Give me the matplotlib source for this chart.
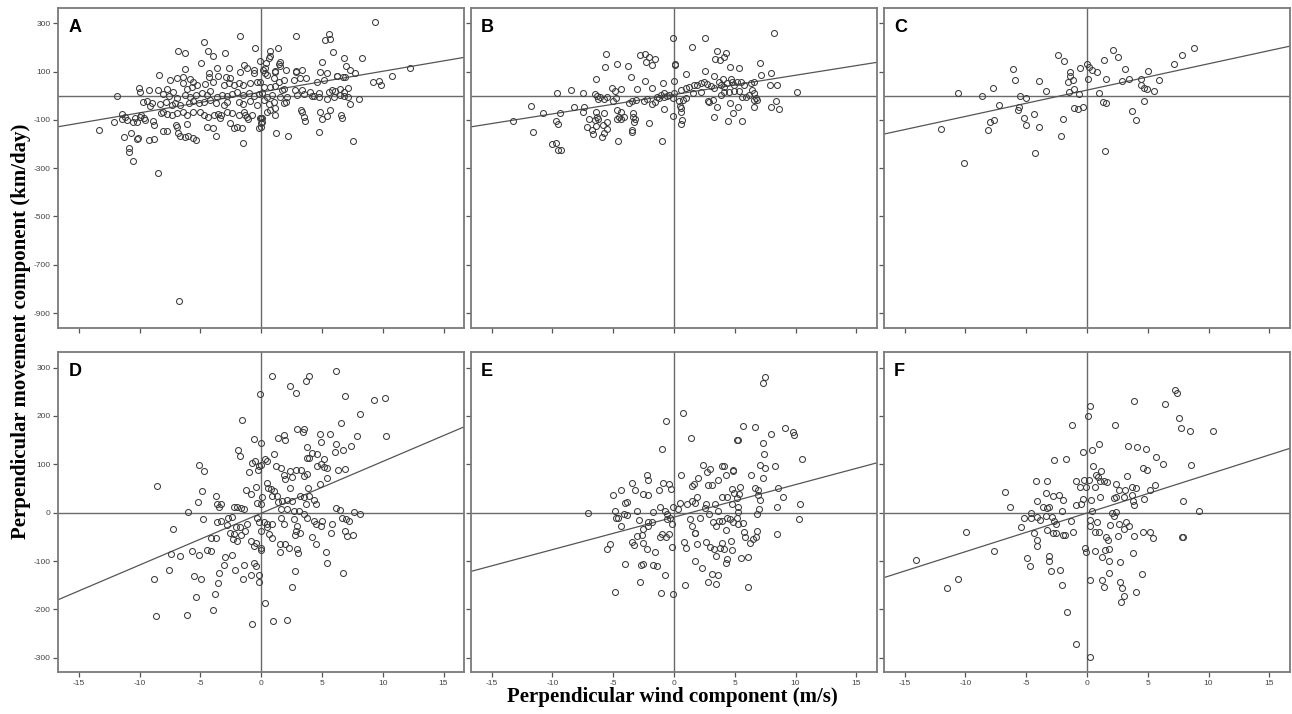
import matplotlib
matplotlib.use('Agg')
import matplotlib.pyplot as plt
import numpy as np

# panel A: perpendicular wind (m/s) vs perpendicular movement (km/day)
a_pts = [
    (9.4, 304), (-1.76, 249), (2.83, 249), (5.55, 254), (5.63, 234), (5.27, 231), (-4.7, 223), (-6.87, 187),
    (-6.26, 176), (-4.34, 187), (-3.98, 165), (-2.97, 178), (-0.49, 198), (0.74, 183), (0.69, 165), (1.35, 198),
    (5.88, 181), (8.3, 158), (6.81, 155), (-4.95, 134), (-0.08, 144), (0.41, 134), (1.51, 141), (1.51, 123),
    (2.06, 106), (-1.43, 127), (-1.18, 113), (5.0, 140), (6.95, 123), (7.34, 106), (7.75, 95), (-6.26, 111),
    (-8.38, 86), (-4.29, 95), (-3.6, 113), (-2.69, 113), (-1.73, 100), (-0.63, 93), (0.11, 106), (1.1, 102),
    (2.88, 102), (3.35, 106), (3.65, 75), (4.59, 58), (5.14, 65), (5.41, 95), (6.24, 82), (6.87, 76),
    (9.18, 58), (9.67, 62), (9.89, 44), (10.77, 82), (12.25, 113), (6.1, 21), (6.51, 26), (7.12, 33),
    (6.79, -3), (5.96, -7), (5.41, -15), (7.34, -35), (8.05, -14), (4.31, -1), (3.3, -59), (3.54, -87),
    (3.57, -104), (4.81, -66), (5.0, -95), (5.41, -84), (5.69, -59), (6.59, -80), (6.62, -94), (7.58, -187),
    (4.78, -149), (1.21, -153), (2.17, -169), (0.0, -129), (0.0, -91), (-1.51, -195), (-2.28, -135), (-2.0, -129),
    (-1.13, -97), (-1.32, -80), (-3.43, -91), (-3.32, -80), (-3.71, -166), (-4.48, -129), (-3.93, -133), (-5.36, -184),
    (-5.58, -174), (-6.26, -170), (-6.68, -167), (-6.95, -129), (-6.81, -156), (-8.05, -145), (-7.77, -145), (-8.82, -122),
    (-9.2, -184), (-8.79, -181), (-10.11, -177), (-10.52, -271), (-10.85, -218), (-10.85, -232), (-10.71, -153), (-11.26, -170),
    (-13.35, -141), (-12.09, -111), (-11.48, -77), (-11.43, -98), (-11.04, -101), (-10.58, -108), (-10.25, -108), (-9.89, -80),
    (-9.64, -94), (-11.9, -1), (-8.49, -321), (-6.76, -852),
    (-0.63, 106), (-4.26, 79), (-3.52, 82), (-2.88, 76), (-2.55, 72), (0.33, 93), (-7.5, 65), (-6.9, 72),
    (-6.46, 79), (-5.85, 69), (-5.58, 58), (-10.03, 33), (-9.97, 14), (-9.26, 22), (-8.46, 24), (-7.72, 28),
    (-7.23, 14), (-6.4, 51), (-6.13, 28), (-5.71, 37), (-5.3, 44), (-4.62, 47), (-3.93, 58), (-3.1, 44),
    (-2.69, 51), (-2.28, 44), (-1.87, 51), (-1.46, 44), (-0.91, 51), (-0.36, 58),
    (-8.1, 6), (-7.55, 0), (-6.9, -8), (-6.26, 3), (-5.85, -4), (-5.36, 3), (-4.89, 12), (-4.48, 3),
    (-4.2, 19), (-3.65, -4), (-3.24, 3), (-2.83, -1), (-2.42, 6), (-2.0, 14), (-1.51, 3), (-1.04, 10),
    (-0.63, 0), (-0.22, 6),
    (-9.7, -25), (-9.42, -22), (-9.15, -41), (-9.01, -32), (-8.32, -36), (-7.83, -28), (-7.36, -39), (-7.09, -32),
    (-6.68, -39), (-5.91, -29), (-5.58, -22), (-5.16, -32), (-4.75, -25), (-4.2, -18), (-3.71, -32), (-3.05, -39),
    (-2.83, -28), (-1.87, -28), (-1.46, -36), (-0.91, -22), (-0.36, -39),
    (-11.21, -87), (-10.38, -94), (-9.97, -87), (-9.56, -101), (-8.87, -105), (-8.27, -73), (-8.05, -66), (-7.72, -77),
    (-7.36, -80), (-6.95, -73), (-6.4, -66), (-6.13, -80), (-5.58, -66), (-5.03, -66), (-4.75, -80), (-4.34, -87),
    (-3.87, -80), (-3.52, -77), (-2.83, -66), (-2.42, -73), (-1.87, -80), (-1.4, -66), (-1.18, -87), (-0.77, -80),
    (-0.08, -94), (-10.25, -180), (-7.0, -122), (-5.99, -166), (-6.07, -119), (-2.55, -115), (-1.59, -135), (-0.22, -133),
    (-0.03, -115),
    (0.6, 158), (1.48, 130), (0.33, 113), (2.88, 97), (4.81, 97), (6.24, 83), (6.73, 79), (1.15, 100),
    (0.47, 86), (1.02, 72), (1.43, 58), (1.84, 65), (2.66, 65), (3.16, 72), (-0.08, 58), (0.19, 37),
    (0.74, 37), (1.15, 41), (1.7, 24), (1.9, 28), (2.8, 24), (3.35, 24), (4.04, 17), (4.73, 10),
    (5.82, 24), (6.79, 17), (0.05, 10), (0.47, -4), (0.88, 3), (1.57, -4), (2.12, -4), (2.94, 3),
    (3.49, 6), (4.18, -1), (4.73, -4), (5.55, 14), (6.51, 3), (7.12, -4), (0.19, -18), (0.6, -36),
    (1.02, -25), (1.15, -53), (1.84, -32), (2.06, -25), (0.47, -66), (1.15, -80), (0.74, -59), (3.35, -66),
    (0.05, -94), (0.05, -108),
]

b_pts = [
    (8.22, 259), (-0.11, 238), (2.55, 238), (1.45, 201), (-5.59, 173), (-2.79, 170), (-2.38, 174), (-2.03, 162),
    (-1.59, 151), (-2.33, 140), (-1.8, 127), (3.56, 187), (4.25, 178), (4.11, 159), (3.78, 148), (3.34, 152),
    (-5.64, 120), (-4.66, 130), (-3.75, 123), (0.05, 133), (0.08, 127), (7.07, 134), (4.6, 118), (5.34, 113),
    (2.52, 104), (-3.53, 79), (0.96, 89), (-6.44, 68), (-2.38, 62), (-0.9, 54), (0.0, 61), (3.29, 82),
    (4.05, 68), (4.66, 68), (5.21, 58), (7.12, 86), (7.95, 95), (-9.59, 10), (-8.49, 24), (-7.45, 12),
    (-6.49, 7), (-6.3, -1), (-6.08, -4), (-6.25, -14), (-5.12, 30), (-4.85, 19), (-4.33, 26), (-3.07, 28),
    (-1.78, 30), (-1.37, -4), (-1.1, 3), (-0.82, 10), (-0.41, 3), (0.0, 10), (0.55, 24), (0.96, 30),
    (1.23, 37), (1.64, 44), (1.92, 44), (2.19, 51), (2.47, 58), (2.74, 48), (3.01, 40), (3.29, 30),
    (3.7, 58), (3.84, 44), (4.11, 37), (4.38, 51), (4.79, 58), (4.93, 44), (5.48, 58), (5.75, 44),
    (6.3, 51), (6.58, 58), (6.44, 24), (6.58, 10), (6.71, -11), (6.85, -18), (7.89, 44), (8.44, 44),
    (10.08, 17), (-11.78, -41), (-10.82, -73), (-9.37, -73), (-13.21, -104), (-11.59, -152), (-9.73, -105), (-9.53, -119),
    (-10.08, -200), (-9.75, -195), (-9.53, -225), (-9.26, -225), (-8.22, -46), (-7.53, -66), (-7.4, -48), (-6.44, -66),
    (-6.3, -87), (-6.49, -101), (-6.99, -97), (-6.25, -95), (-7.12, -131), (-6.71, -142), (-6.66, -159), (-6.44, -126),
    (-5.84, -122), (-5.75, -156), (-5.89, -173), (-5.48, -108), (-5.48, -136), (-5.75, -73), (-4.66, -59), (-4.52, -87),
    (-4.66, -97), (-4.38, -95), (-4.11, -87), (-4.38, -66), (-3.48, -142), (-3.42, -149), (-3.29, -108), (-3.37, -87),
    (-3.23, -95), (-3.34, -73), (-4.63, -187), (-2.05, -115), (-5.75, -14), (-5.48, -7), (-4.99, -21), (-4.79, -11),
    (-3.7, -32), (-3.42, -22), (-3.15, -18), (-2.47, -21), (-2.19, -15), (-1.78, -35), (-1.59, -25), (-1.23, -11),
    (-0.82, -4), (-0.55, -1), (-0.05, -8), (-0.82, -57), (-0.05, -84), (0.55, -53), (0.6, -66), (0.68, -101),
    (0.55, -118), (0.47, -43), (0.96, -11), (0.77, -18), (0.41, -21), (-1.01, -187), (1.59, 12), (2.19, 17),
    (2.79, -22), (3.23, -18), (3.51, -48), (3.29, -90), (2.88, -25), (3.84, 3), (4.11, 17), (4.52, 17),
    (4.93, 21), (5.34, 21), (5.62, -7), (5.89, -4), (6.16, 3), (6.58, -18), (4.41, -104), (4.82, -71),
    (5.23, -48), (5.62, -104), (6.58, -48), (4.6, -32), (7.95, -46), (8.36, -21), (8.63, -57),
]

c_pts = [
    (8.79, 199), (7.81, 169), (7.15, 131), (2.11, 189), (2.55, 159), (1.42, 147), (-2.41, 169), (-1.89, 145),
    (-6.08, 109), (-5.89, 65), (-3.97, 62), (-7.7, 33), (-10.6, 10), (-8.63, 0), (-3.37, 18), (-1.42, 98),
    (-1.42, 82), (-1.53, 57), (-1.18, 65), (-1.1, 29), (-1.45, 14), (-0.68, 7), (-0.55, 116), (0.0, 131),
    (0.14, 120), (0.41, 106), (0.82, 100), (0.08, 68), (0.99, 12), (1.59, 69), (3.1, 112), (2.88, 59),
    (3.42, 68), (4.47, 68), (4.99, 102), (5.92, 65), (4.47, 43), (4.66, 30), (4.93, 28), (5.48, 18),
    (-5.53, -1), (-5.04, -11), (-7.26, -40), (-5.62, -46), (-5.64, -58), (-4.38, -76), (-5.15, -91), (-4.99, -123),
    (-3.95, -131), (-7.62, -101), (-8.0, -108), (-8.11, -141), (-12.03, -137), (-10.11, -279), (-4.3, -238), (-2.11, -169),
    (-1.97, -95), (-1.1, -53), (-0.71, -54), (-0.3, -46), (1.29, -26), (1.59, -30), (3.7, -62), (4.03, -102),
    (4.66, -24), (1.51, -228),
]

d_pts = [
    (0.85, 283), (2.33, 262), (2.83, 248), (3.65, 273), (3.92, 283), (6.17, 292), (-0.14, 245), (6.86, 241),
    (9.27, 234), (10.15, 237), (8.09, 205), (6.53, 186), (10.29, 158), (-1.59, 191), (2.96, 173), (3.51, 173),
    (3.43, 166), (1.87, 161), (1.4, 155), (1.92, 150), (4.83, 162), (5.62, 162), (4.94, 146), (6.17, 143),
    (6.72, 129), (7.35, 137), (7.9, 158), (6.06, 125), (-0.6, 152), (-0.05, 145), (-1.92, 129), (-1.73, 118),
    (-5.16, 98), (-4.72, 86), (-8.61, 56), (1.04, 122), (0.27, 111), (0.44, 106), (-0.8, 103), (-0.52, 106),
    (-0.16, 96), (0.0, 98), (-0.99, 85), (-0.27, 89), (1.18, 96), (1.59, 93), (2.36, 87), (2.83, 89),
    (3.24, 89), (3.73, 136), (3.79, 114), (3.92, 114), (4.2, 123), (4.55, 121), (4.55, 96), (4.88, 101),
    (5.16, 94), (5.43, 93), (5.16, 111), (6.34, 89), (6.86, 91), (5.43, 72), (4.83, 60), (3.51, 75),
    (3.79, 80), (1.87, 79), (1.92, 70), (2.55, 73), (2.36, 51), (3.84, 51), (0.44, 61), (0.58, 51),
    (0.77, 49), (1.04, 44), (0.91, 35), (1.32, 35), (1.37, 23), (1.73, 25), (2.14, 26), (2.55, 25),
    (3.18, 35), (3.51, 32), (3.92, 35), (4.33, 26), (4.47, 19), (3.65, 19), (-1.26, 46), (-0.88, 39),
    (-0.47, 53), (0.03, 32), (-0.33, 21), (-0.05, 18), (-3.7, 35), (-3.48, 11), (-3.31, 18), (-2.25, 11),
    (-1.98, 11), (-1.7, 10), (-1.43, 8), (-6.06, 2), (-4.83, -12), (-5.21, 23), (-2.74, -10), (-2.39, -8),
    (-2.06, -30), (-1.78, -30), (-2.25, -43), (-2.58, -41), (-1.7, -46), (-1.34, -37), (-3.68, -20), (-3.35, -17),
    (-2.85, -25), (-1.15, -24), (-0.33, -10), (-0.19, -20), (0.22, -20), (0.49, -24), (0.91, -24), (0.44, -30),
    (0.63, -44), (0.85, -53), (-0.05, -37), (1.59, 8), (2.14, 8), (2.69, 4), (3.1, 4), (3.51, -3),
    (3.79, -10), (4.33, -17), (4.88, -27), (5.02, -17), (4.47, -24), (1.59, -10), (1.87, -24), (2.69, -13),
    (2.96, -27), (2.83, -37), (3.18, -41), (2.74, -46), (6.17, 10), (6.47, 6), (6.66, -10), (6.94, -13),
    (7.22, -18), (7.62, 1), (8.12, -3), (5.84, -24), (5.71, -42), (6.86, -37), (7.08, -48), (7.57, -46),
    (4.2, -51), (4.47, -64), (-7.3, -34), (-7.41, -85), (-6.72, -90), (-5.68, -80), (-5.08, -87), (-7.57, -119),
    (-8.83, -136), (-4.91, 44), (-4.17, -53), (-3.76, -53), (-4.5, -78), (-4.12, -79), (-2.99, -91), (-2.39, -87),
    (-3.62, 18), (-2.3, -55), (-1.98, -58), (-0.88, -58), (-0.47, -62), (-0.6, -69), (-0.05, -76), (0.0, -73),
    (-3.07, -108), (-2.17, -119), (-1.43, -109), (-0.6, -103), (-0.47, -110), (-1.48, -136), (-0.88, -129), (-0.16, -129),
    (-0.16, -143), (-5.54, -131), (-4.99, -136), (-3.46, -124), (-3.54, -145), (-3.81, -167), (-5.4, -174), (-3.95, -202),
    (-6.09, -211), (-8.7, -213), (-0.8, -229), (0.3, -187), (0.93, -223), (2.09, -221), (2.55, -153), (2.74, -120),
    (1.54, -65), (1.92, -64), (2.28, -72), (2.91, -75), (3.02, -84), (5.3, -82), (5.38, -103), (6.72, -124),
    (1.51, -82),
]

e_pts = [
    (7.51, 280), (7.29, 269), (0.71, 206), (-0.66, 190), (-1.01, 132), (1.37, 154), (5.64, 179), (6.63, 177),
    (9.12, 176), (9.75, 167), (9.89, 160), (8.0, 162), (5.21, 151), (5.26, 150), (7.32, 144), (7.37, 122),
    (10.52, 112), (-2.19, 79), (-2.11, 68), (-3.48, 61), (-3.21, 47), (-4.99, 36), (-4.38, 47), (-4.05, 21),
    (-3.84, 22), (-2.58, 39), (-2.11, 37), (-1.21, 46), (-0.88, 61), (-0.38, 60), (-0.27, 49), (0.6, 78),
    (2.41, 99), (2.96, 91), (2.74, 84), (3.97, 96), (4.11, 96), (4.25, 79), (4.88, 89), (4.82, 87),
    (3.64, 68), (2.0, 71), (1.67, 59), (1.51, 56), (2.82, 57), (3.1, 57), (6.3, 78), (7.07, 98),
    (7.48, 93), (7.34, 72), (8.3, 96), (8.52, 51), (8.99, 33), (8.49, 12), (6.88, 48), (6.66, 51),
    (6.93, 37), (7.07, 26), (6.85, -3), (7.01, 8), (5.42, 53), (5.37, 39), (4.74, 49), (4.93, 41),
    (5.21, 30), (10.36, 19), (10.3, -13), (-7.07, 0), (-4.88, 4), (-4.77, -10), (-4.58, -10), (-4.38, -27),
    (-4.08, -3), (-3.89, -4), (-3.07, 3), (-2.85, -15), (-2.11, -19), (-1.84, -20), (-1.7, 1), (-2.11, -27),
    (-1.15, 12), (-0.74, 4), (-0.55, -3), (-0.33, -10), (-0.55, -13), (-0.19, -24), (-0.05, 11), (0.36, 8),
    (0.49, 21), (1.04, 19), (1.45, 25), (1.86, 32), (1.73, 21), (2.63, 19), (2.55, 10), (3.37, 19),
    (3.64, 4), (3.92, 32), (4.33, 32), (4.74, 18), (5.29, 11), (5.29, 1), (1.32, -13), (1.45, -27),
    (1.73, -41), (2.14, -10), (2.9, -3), (3.23, -20), (3.45, -27), (3.73, -18), (3.92, -17), (4.27, -36),
    (4.33, -10), (4.6, -13), (4.88, -20), (5.15, -11), (5.29, -24), (5.7, -22), (5.75, -39), (5.84, -51),
    (6.25, -62), (6.52, -55), (6.74, -51), (6.79, -37), (8.49, -43), (-2.52, -34), (-2.66, -46), (-3.01, -48),
    (-3.48, -60), (-3.29, -66), (-2.58, -62), (-2.25, -74), (-1.56, -82), (-1.15, -51), (-0.99, -44), (-0.66, -50),
    (-0.38, -44), (-0.14, -70), (-5.26, -64), (-5.48, -75), (-4.03, -105), (-2.71, -107), (-2.52, -105), (-1.7, -108),
    (-1.37, -110), (-2.79, -143), (-0.74, -129), (-4.85, -164), (-1.07, -166), (-0.11, -167), (0.9, -150), (0.82, -60),
    (0.99, -72), (1.86, -64), (1.73, -42), (2.6, -60), (2.96, -71), (3.32, -75), (3.45, -89), (3.78, -72),
    (3.97, -63), (4.14, -75), (4.74, -78), (4.66, -58), (4.33, -96), (4.27, -103), (5.48, -93), (6.11, -91),
    (1.75, -100), (2.27, -114), (3.15, -126), (3.64, -129), (2.82, -143), (3.42, -148), (6.05, -154),
]

f_pts = [
    (7.28, 253), (7.39, 248), (3.86, 231), (6.38, 224), (0.25, 220), (0.05, 201), (-1.2, 181), (2.33, 181),
    (7.56, 195), (7.72, 176), (8.46, 170), (10.4, 170), (1.01, 143), (-0.33, 125), (0.44, 129), (3.37, 137),
    (4.11, 136), (4.87, 132), (5.64, 115), (6.24, 101), (4.98, 89), (4.63, 93), (8.57, 98), (-2.68, 110),
    (-1.72, 112), (0.49, 97), (0.77, 79), (1.18, 86), (0.88, 73), (1.42, 66), (1.64, 63), (1.04, 66),
    (3.28, 75), (-0.88, 65), (-0.27, 68), (0.14, 68), (-0.55, 54), (-0.11, 53), (0.66, 54), (-4.22, 66),
    (-3.29, 66), (-6.71, 42), (-6.3, 11), (-3.39, 40), (-2.82, 34), (-2.33, 37), (-1.97, 27), (-4.08, 24),
    (-3.61, 12), (-3.29, 10), (-3.1, 11), (-4.6, 0), (-4.6, -10), (-5.15, -10), (-4.11, -8), (-3.89, -15),
    (-3.34, -6), (-2.87, -8), (-2.68, -17), (-2.52, -24), (-2.03, 3), (-1.31, -17), (-1.15, -39), (-1.97, -46),
    (-1.83, -47), (-5.39, -30), (-4.33, -42), (-3.29, -35), (-2.79, -42), (-2.57, -41), (-0.88, 17), (-0.33, 28),
    (-0.49, 19), (0.36, 27), (1.1, 33), (2.19, 30), (2.41, 32), (3.01, 32), (3.7, 37), (3.78, 25),
    (3.83, 17), (2.41, 60), (2.6, 47), (3.15, 46), (3.7, 53), (4.02, 51), (4.71, 28), (5.15, 46),
    (5.56, 58), (7.94, 24), (9.2, 3), (0.41, 4), (0.27, -15), (0.27, -27), (0.82, -19), (0.68, -39),
    (1.01, -39), (1.86, -26), (2.08, -1), (2.24, -6), (2.41, 2), (2.6, -24), (3.23, -20), (3.45, -28),
    (3.01, -34), (1.59, -50), (1.7, -57), (2.55, -48), (3.83, -48), (4.65, -39), (5.2, -39), (5.42, -53),
    (7.83, -50), (7.94, -50), (-9.96, -39), (-7.61, -80), (-14.1, -98), (-10.62, -138), (-11.55, -155), (-4.11, -57),
    (-4.08, -69), (-4.93, -93), (-4.71, -111), (-3.15, -89), (-3.12, -100), (-2.98, -120), (-2.19, -118), (-2.03, -149),
    (-1.62, -206), (-0.9, -271), (0.27, -298), (-0.14, -73), (-0.11, -82), (0.63, -80), (1.26, -91), (1.45, -78),
    (1.78, -75), (1.78, -100), (1.78, -124), (2.68, -102), (3.75, -83), (4.52, -127), (0.25, -140), (1.23, -139),
    (1.42, -153), (2.71, -143), (2.85, -155), (3.01, -172), (2.82, -185), (4.0, -163),
]

panel_letters = ['A', 'B', 'C', 'D', 'E', 'F']
slopes = [8.6, 8.0, 10.9, 10.7, 6.72, 8.0]
intercepts = [15, 4.5, 23, -1, -9, -0.5]
x_ticks = [-15, -10, -5, 0, 5, 10, 15]
top_y_ticks = [300, 100, -100, -300, -500, -700, -900]
bottom_y_ticks = [-300, -200, -100, 0, 100, 200, 300]

plt.rcParams['axes.unicode_minus'] = False
plt.rcParams['font.family'] = ['Liberation Sans', 'DejaVu Sans']

fig = plt.figure(figsize=(12.92, 7.14), dpi=100)

lefts = [0.0451, 0.3646, 0.6842]
width = 0.3142
bottoms = [0.5403, 0.0583]
height = 0.4485
xlim = (-16.7, 16.7)
ylims = [(-963, 363), (-330, 332)]

all_pts = [a_pts, b_pts, c_pts, d_pts, e_pts, f_pts]

for i in range(6):
    row, col = divmod(i, 3)
    ax = fig.add_axes([lefts[col], bottoms[row], width, height])
    pts = np.array(all_pts[i])

    ax.axhline(0, color='#6a6a6a', lw=1.0, zorder=1)
    ax.axvline(0, color='#6a6a6a', lw=1.0, zorder=1)

    xs = np.array(xlim)
    ax.plot(xs, intercepts[i] + slopes[i] * xs, color='#555555', lw=0.9, zorder=2)

    ax.plot(pts[:, 0], pts[:, 1], 'o', mfc='none', mec='#3c3c3c', ms=4.3, mew=0.75, zorder=3)

    ax.set_xlim(*xlim)
    ax.set_ylim(*ylims[row])
    ax.set_xticks(x_ticks)
    ax.set_yticks(top_y_ticks if row == 0 else bottom_y_ticks)

    ax.tick_params(direction='out', length=3.6, width=0.9, color='#555555',
                   labelsize=6, labelcolor='#444444', pad=2)
    if row == 0:
        ax.tick_params(labelbottom=False)
    if col != 0:
        ax.tick_params(labelleft=False)

    for sp in ax.spines.values():
        sp.set_color('#7a7a7a')
        sp.set_linewidth(1.3)

    ax.text(0.025, 0.965, panel_letters[i], transform=ax.transAxes,
            fontsize=13, fontweight='bold', va='top', ha='left', color='black')

fig.text(0.5205, 0.024, 'Perpendicular wind component (m/s)', ha='center', va='center',
         fontsize=15, fontweight='bold', family=['Liberation Serif', 'DejaVu Serif'])
fig.text(0.0165, 0.536, 'Perpendicular movement component (km/day)', ha='center', va='center',
         rotation=90, fontsize=15, fontweight='bold', family=['Liberation Serif', 'DejaVu Serif'])

plt.savefig('out.png', dpi=100)
